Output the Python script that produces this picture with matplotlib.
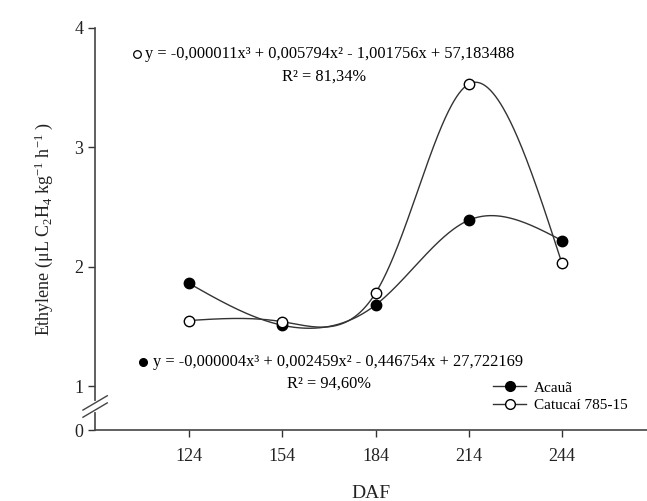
import matplotlib
matplotlib.use("Agg")
import matplotlib.pyplot as plt
import numpy as np

plt.rcParams["font.family"] = ["Liberation Serif", "DejaVu Serif"]
plt.rcParams["mathtext.fontset"] = "custom"
plt.rcParams["mathtext.rm"] = "Liberation Serif"
plt.rcParams["mathtext.it"] = "Liberation Serif:italic"

# data
daf = [124, 154, 184, 214, 244]
acaua = [1.86, 1.51, 1.68, 2.39, 2.22]
catucai = [1.55, 1.54, 1.78, 3.53, 2.03]
names = ["Acauã", "Catucaí 785-15"]
eq_catucai = "y = -0,000011x³ + 0,005794x² - 1,001756x + 57,183488"
r2_catucai = "R² = 81,34%"
eq_acaua = "y = -0,000004x³ + 0,002459x² - 0,446754x + 27,722169"
r2_acaua = "R² = 94,60%"
yticks = [0, 1, 2, 3, 4]

# compressed zero below the axis break
y_zero = 0.633


def spline_eval(t, y, ts):
    # natural cubic spline of y over knots t, evaluated at ts
    t = np.asarray(t, float)
    y = np.asarray(y, float)
    k = len(t)
    h = np.diff(t)
    A = np.zeros((k, k))
    b = np.zeros(k)
    A[0, 0] = A[-1, -1] = 1
    for i in range(1, k - 1):
        A[i, i - 1] = h[i - 1]
        A[i, i] = 2 * (h[i - 1] + h[i])
        A[i, i + 1] = h[i]
        b[i] = 6 * ((y[i + 1] - y[i]) / h[i] - (y[i] - y[i - 1]) / h[i - 1])
    m = np.linalg.solve(A, b)
    out = np.empty_like(ts)
    for j, tv in enumerate(ts):
        i = min(np.searchsorted(t, tv, side="right") - 1, k - 2)
        t0 = t[i + 1] - tv
        t1 = tv - t[i]
        out[j] = (m[i] * t0 ** 3 + m[i + 1] * t1 ** 3) / (6 * h[i]) \
            + (y[i] / h[i] - m[i] * h[i] / 6) * t0 \
            + (y[i + 1] / h[i] - m[i + 1] * h[i] / 6) * t1
    return out


def smooth_curve(x, y, sx=3.1, sy=119.5, alpha=0.2, n=400):
    # parametric spline, parameter from screen distances
    x = np.asarray(x, float)
    y = np.asarray(y, float)
    d = np.hypot(np.diff(x) * sx, np.diff(y) * sy) ** alpha
    t = np.concatenate([[0], np.cumsum(d)])
    ts = np.linspace(0, t[-1], n)
    return spline_eval(t, x, ts), spline_eval(t, y, ts)


fig = plt.figure(figsize=(6.47, 5.01), dpi=100)
ax = fig.add_axes([0.147, 0.1417, 0.853, 0.8025])

lc = "#333333"
for vals, face in [(acaua, "black"), (catucai, "white")]:
    xs, ys = smooth_curve(daf, vals)
    ax.plot(xs, ys, color=lc, lw=1.0, zorder=2)
    ax.plot(daf, vals, "o", ms=7.5, mfc=face, mec="black", mew=1.0, zorder=3)

# legend
h1, = ax.plot([], [], "-o", color=lc, lw=1.0, ms=7, mfc="black", mec="black")
h2, = ax.plot([], [], "-o", color=lc, lw=1.0, ms=7, mfc="white", mec="black")
ax.legend([h1, h2], names, loc="lower right", bbox_to_anchor=(0.99, 0.01),
          frameon=False, fontsize=11, handlelength=2.2, handletextpad=0.5,
          labelspacing=0.25)

ax.set_xlim(93.7, 271.4)
ax.set_ylim(y_zero, 4)
ax.set_xticks(daf)
ax.set_yticks([y_zero] + yticks[1:])
ax.set_yticklabels([str(t) for t in yticks])
ax.tick_params(direction="out", length=5, width=1, labelsize=13, colors="#333333",
               labelcolor="#222222")
ax.tick_params(axis="x", pad=8)
ax.spines["top"].set_visible(False)
ax.spines["right"].set_visible(False)
for s in ["left", "bottom"]:
    ax.spines[s].set_linewidth(1.2)
    ax.spines[s].set_color("#444444")

ax.set_xlabel("DAF", fontsize=14, labelpad=14, color="#222222")
ax.set_ylabel(r"Ethylene ($\mathrm{\mu L\ C_2H_4\ kg^{-1}\ h^{-1}}$ )",
              fontsize=13, labelpad=14, color="#222222")

# axis break marks
tr = ax.get_yaxis_transform()
ax.plot([0.0, 0.0], [0.80, 0.86], transform=tr, color="white", lw=3,
        clip_on=False, zorder=4)
for yb in [0.80, 0.86]:
    ax.plot([-0.022, 0.022], [yb - 0.06, yb + 0.06], transform=tr,
            color="#444444", lw=1.0, clip_on=False, zorder=5)

# equations
ax.plot([107.2], [3.78], "o", ms=5.5, mfc="white", mec="black", mew=0.9)
ax.text(109.8, 3.78, eq_catucai, fontsize=11.8, va="center", ha="left")
ax.text(153.9, 3.59, r2_catucai, fontsize=11.8, va="center", ha="left")
ax.plot([109.1], [1.205], "o", ms=5.5, mfc="black", mec="black")
ax.text(112.3, 1.205, eq_acaua, fontsize=11.8, va="center", ha="left")
ax.text(155.5, 1.02, r2_acaua, fontsize=11.8, va="center", ha="left")

fig.savefig("out.png", dpi=100)
